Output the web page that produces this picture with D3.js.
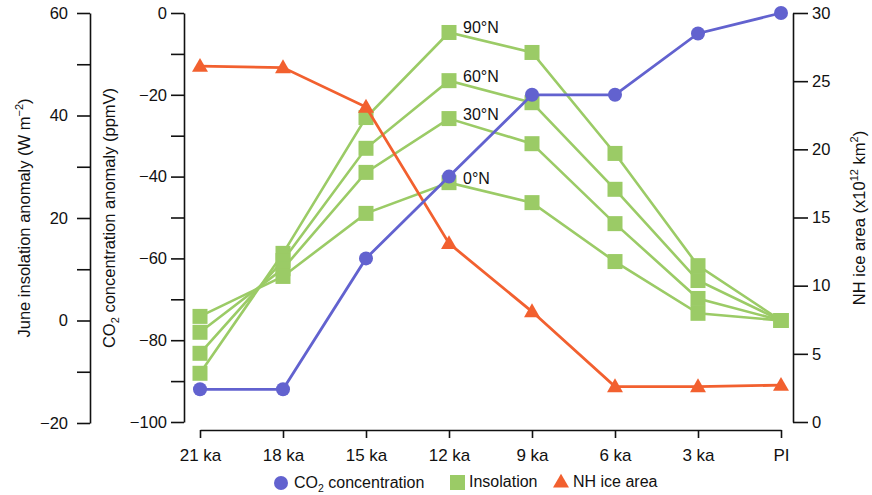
<!DOCTYPE html>
<html>
<head>
<meta charset="utf-8">
<script src="https://cdn.jsdelivr.net/npm/d3@7"></script>
<style>
  body { margin: 0; background: #fff; }
  svg text { font-family: "Liberation Sans", Arial, Helvetica, sans-serif; fill: #111; }
  .axis path, .axis line { stroke: #111; stroke-width: 1.6; }
  .axis text { font-size: 16.5px; }
</style>
</head>
<body>
<svg id="chart" width="872" height="495"></svg>
<script>
// periods on the x axis
const periods = ["21 ka", "18 ka", "15 ka", "12 ka", "9 ka", "6 ka", "3 ka", "PI"];

// CO2 concentration anomaly (ppmV)
const co2 = [-92, -92, -60, -40, -20, -20, -5, 0];

// NH ice area (x10^12 km^2)
const iceArea = [26.1, 26.0, 23.1, 13.1, 8.1, 2.6, 2.6, 2.7];

// June insolation anomaly (W m-2) by latitude
const insolation90N = [-10.3, 13.1, 39.6, 56.2, 52.3, 32.6, 10.7, 0];
const insolation60N = [-6.4, 11.7, 33.6, 46.8, 42.5, 25.6, 7.8, 0];
const insolation30N = [-2.3, 10.1, 28.9, 39.4, 34.5, 18.9, 4.3, 0];
const insolation0N = [0.8, 8.6, 20.9, 26.9, 23.0, 11.5, 1.4, 0];
const latitudes = ["90°N", "60°N", "30°N", "0°N"];

const insTicks = d3.range(-20, 61, 10);
const co2Ticks = d3.range(-100, 1, 10);
const iceTicks = d3.range(0, 31, 5);

const blue = "#6262cf", green = "#9bcb66", orange = "#f2602f";

const svg = d3.select("#chart");

const x = d3.scalePoint().domain(periods).range([200, 781]);
const yIns = d3.scaleLinear().domain([-20, 60]).range([423, 13]);
const yCO2 = d3.scaleLinear().domain([-100, 0]).range([422, 13]);
const yIce = d3.scaleLinear().domain([0, 30]).range([422, 13]);

// axes
svg.append("g").attr("class", "axis")
    .attr("transform", "translate(90,0)")
    .call(d3.axisLeft(yIns).tickValues(insTicks).tickSize(13).tickSizeOuter(0).tickPadding(9)
        .tickFormat(d => d % 20 === 0 ? d3.format("")(d) : ""));

svg.append("g").attr("class", "axis")
    .attr("transform", "translate(184,0)")
    .call(d3.axisLeft(yCO2).tickValues(co2Ticks).tickSize(13).tickSizeOuter(0).tickPadding(4)
        .tickFormat(d => d % 20 === 0 ? d3.format("")(d) : ""));

svg.append("g").attr("class", "axis")
    .attr("transform", "translate(793,0)")
    .call(d3.axisRight(yIce).tickValues(iceTicks).tickSize(15).tickSizeOuter(0).tickPadding(4));

svg.append("g").attr("class", "axis")
    .attr("transform", "translate(0,430)")
    .call(d3.axisBottom(x).tickSize(8).tickSizeOuter(0).tickPadding(11))
    .selectAll("text").style("font-size", "17px");

// axis titles
const t1 = svg.append("text").attr("transform", "translate(30,218) rotate(-90)")
    .attr("text-anchor", "middle").style("font-size", "16.5px");
t1.append("tspan").text("June insolation anomaly (W m");
t1.append("tspan").attr("dy", -7).style("font-size", "11px").text("−2");
t1.append("tspan").attr("dy", 7).text(")");

const t2 = svg.append("text").attr("transform", "translate(115,218) rotate(-90)")
    .attr("text-anchor", "middle").style("font-size", "16.5px");
t2.append("tspan").text("CO");
t2.append("tspan").attr("dy", 4).style("font-size", "11px").text("2");
t2.append("tspan").attr("dy", -4).text(" concentration anomaly (ppmV)");

const t3 = svg.append("text").attr("transform", "translate(865,218) rotate(-90)")
    .attr("text-anchor", "middle").style("font-size", "16.5px");
t3.append("tspan").text("NH ice area (x10");
t3.append("tspan").attr("dy", -7).style("font-size", "11px").text("12");
t3.append("tspan").attr("dy", 7).text(" km");
t3.append("tspan").attr("dy", -7).style("font-size", "11px").text("2");
t3.append("tspan").attr("dy", 7).text(")");

// insolation lines
const insSeries = [insolation90N, insolation60N, insolation30N, insolation0N];
const insLine = d3.line().x((d, i) => x(periods[i])).y(d => yIns(d));

insSeries.forEach((s, k) => {
    svg.append("path").attr("d", insLine(s))
        .attr("fill", "none").attr("stroke", green).attr("stroke-width", 2.6);
    svg.selectAll(null).data(s).enter().append("rect")
        .attr("x", (d, i) => x(periods[i]) - 7.5)
        .attr("y", d => yIns(d) - 7.5)
        .attr("width", 15).attr("height", 15)
        .attr("fill", green);
    svg.append("text")
        .attr("x", x("12 ka") + 14)
        .attr("y", yIns(s[3]) + 1)
        .style("font-size", "16px")
        .text(latitudes[k]);
});

// NH ice area
const iceLine = d3.line().x((d, i) => x(periods[i])).y(d => yIce(d));
svg.append("path").attr("d", iceLine(iceArea))
    .attr("fill", "none").attr("stroke", orange).attr("stroke-width", 2.8);
const tri = d3.symbol().type(d3.symbolTriangle).size(110);
svg.selectAll(null).data(iceArea).enter().append("path")
    .attr("d", tri)
    .attr("transform", (d, i) => `translate(${x(periods[i])},${yIce(d) + 1})`)
    .attr("fill", orange);

// CO2
const co2Line = d3.line().x((d, i) => x(periods[i])).y(d => yCO2(d));
svg.append("path").attr("d", co2Line(co2))
    .attr("fill", "none").attr("stroke", blue).attr("stroke-width", 2.8);
svg.selectAll(null).data(co2).enter().append("circle")
    .attr("cx", (d, i) => x(periods[i]))
    .attr("cy", d => yCO2(d))
    .attr("r", 7)
    .attr("fill", blue);

// legend
const lg = svg.append("g").attr("transform", "translate(0,483)");
lg.append("circle").attr("cx", 281).attr("cy", 0).attr("r", 7).attr("fill", blue);
const lt = lg.append("text").attr("x", 294).attr("y", 5).style("font-size", "16px");
lt.append("tspan").text("CO");
lt.append("tspan").attr("dy", 4).style("font-size", "10.5px").text("2");
lt.append("tspan").attr("dy", -4).text(" concentration");
lg.append("rect").attr("x", 450).attr("y", -8).attr("width", 15).attr("height", 15).attr("fill", green);
lg.append("text").attr("x", 469).attr("y", 4).style("font-size", "16px").text("Insolation");
lg.append("path").attr("d", tri).attr("transform", "translate(561,0)").attr("fill", orange);
lg.append("text").attr("x", 573).attr("y", 4).style("font-size", "16px").text("NH ice area");
</script>
</body>
</html>
